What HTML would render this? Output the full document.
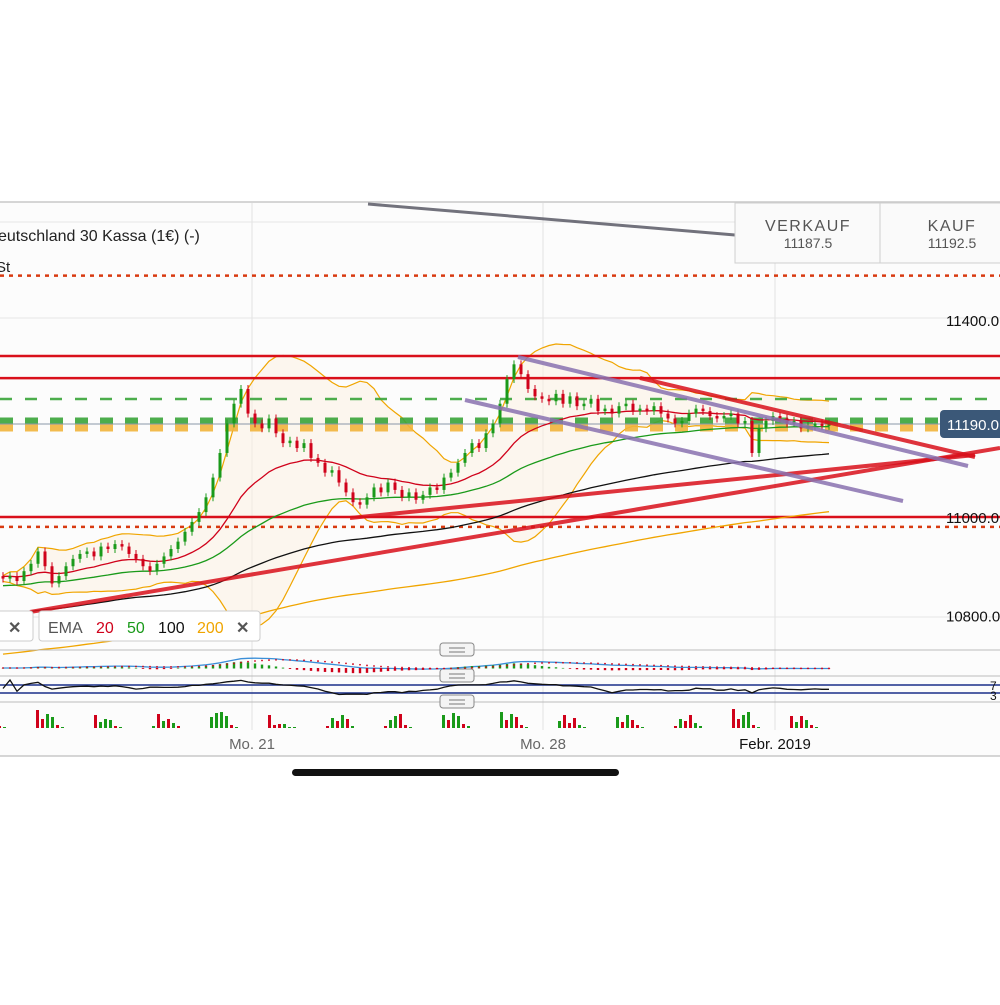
<!DOCTYPE html>
<html><head><meta charset="utf-8"><style>
html,body{margin:0;padding:0;background:#fff;}
body{width:1000px;height:1000px;overflow:hidden;font-family:"Liberation Sans",sans-serif;}
</style></head><body>
<svg id="c" width="1000" height="1000" viewBox="0 0 1000 1000" xmlns="http://www.w3.org/2000/svg" font-family="Liberation Sans, sans-serif">
<rect x="0" y="202" width="1000" height="554" fill="#fcfcfc"/>
<line x1="0" y1="202" x2="1000" y2="202" stroke="#c8c8c8" stroke-width="1.5"/>
<line x1="0" y1="756" x2="1000" y2="756" stroke="#c8c8c8" stroke-width="1.5"/>
<g id="grid"></g>
<g id="bb"></g>
<g id="levels"></g>
<g id="ema"></g>
<g id="candles"></g>
<g id="draw"></g>
<g id="panels"></g>
<g id="vol"></g>

<text x="-2" y="241" font-size="16" fill="#222">eutschland 30 Kassa (1€) (-)</text>
<text x="-4" y="272" font-size="15" fill="#222">St</text>

<g>
<rect x="735" y="203" width="145" height="60" fill="#fafafa" stroke="#cfcfcf"/>
<text x="808" y="231" font-size="16" fill="#555" text-anchor="middle" letter-spacing="1.5">VERKAUF</text>
<text x="808" y="248" font-size="14" fill="#555" text-anchor="middle">11187.5</text>
</g>
<g>
<rect x="880" y="203" width="125" height="60" fill="#fafafa" stroke="#cfcfcf"/>
<text x="952" y="231" font-size="16" fill="#555" text-anchor="middle" letter-spacing="1.5">KAUF</text>
<text x="952" y="248" font-size="14" fill="#555" text-anchor="middle">11192.5</text>
</g>

<g id="yaxis"></g>
<g>
<rect x="940" y="410" width="64" height="28" rx="4" fill="#3b5878"/>
<text x="947" y="430" font-size="15" fill="#fff">11190.0</text>
</g>

<g>
<rect x="-5" y="611" width="38" height="30" rx="3" fill="#fff" stroke="#ccc"/>
<text x="8" y="633" font-size="16" fill="#555" font-weight="bold">✕</text>
</g>
<g>
<rect x="39" y="611" width="221" height="30" rx="3" fill="#fff" stroke="#ccc"/>
<text x="48" y="633" font-size="16" fill="#555">EMA</text>
<text x="96" y="633" font-size="16" fill="#d0021b">20</text>
<text x="127" y="633" font-size="16" fill="#1a9a1a">50</text>
<text x="158" y="633" font-size="16" fill="#111">100</text>
<text x="197" y="633" font-size="16" fill="#f0a500">200</text>
<text x="236" y="633" font-size="16" fill="#555" font-weight="bold">✕</text>
</g>

<g id="xaxis"></g>
<rect x="292" y="769" width="327" height="7" rx="3.5" fill="#111"/>
</svg>
<script>
// ---- data ----
const closes=[10875,10880,10870,10890,10905,10930,10900,10865,10880,10900,10915,10925,10930,10920,10940,10935,10945,10940,10925,10915,10900,10890,10905,10920,10935,10950,10970,10990,11010,11040,11080,11130,11190,11230,11260,11210,11190,11180,11200,11170,11150,11155,11140,11150,11120,11110,11090,11095,11070,11050,11030,11025,11040,11060,11050,11070,11055,11040,11050,11035,11045,11060,11055,11080,11090,11110,11130,11150,11140,11170,11190,11230,11280,11310,11290,11260,11245,11240,11235,11250,11230,11245,11225,11230,11240,11215,11220,11210,11225,11230,11215,11220,11215,11225,11210,11200,11190,11195,11210,11220,11215,11205,11200,11205,11210,11190,11195,11130,11180,11195,11205,11200,11190,11195,11180,11185,11190,11185,11190];
const firstOpen=10880;
const priceTicks=[11400,11000,10800];
const priceTickLabels=["11400.0","11000.0","10800.0"];
const solidLevels=[11327,11282,11000];
const dottedLevels=[11490,10980];
const dateLabels=["Mo. 21","Mo. 28","Febr. 2019"];
const dateX=[252,543,775];
const emaSeeds={20:10880,50:10860,100:10800,200:10720};
const volumes=[[6,14,4,3,2,1],[18,9,14,11,3,1],[13,6,9,8,2,1],[2,14,7,9,5,2],[11,15,16,12,3,1],[13,3,4,4,1,1],[2,10,7,13,9,2],[2,8,12,14,3,1],[13,8,15,12,4,2],[16,8,14,11,3,1],[7,13,5,10,3,1],[11,6,13,8,3,1],[2,9,7,13,5,2],[19,9,13,16,3,1],[12,6,12,8,3,1]];
const volUp=[[0,1,0,1,0,1],[0,0,1,1,0,1],[0,1,1,1,0,1],[1,0,1,0,1,0],[1,1,1,1,0,1],[0,0,0,1,1,1],[0,1,0,1,0,1],[0,1,1,0,0,1],[1,0,1,1,0,1],[1,0,1,0,0,1],[1,0,0,0,1,1],[1,0,1,0,0,1],[0,1,0,0,1,1],[0,0,1,1,0,1],[0,1,0,1,0,1]];
// ---- scales ----
const X0=3,DX=7;
const xs=i=>X0+i*DX;
const ys=p=>517-(p-11000)*0.4925;
const NS='http://www.w3.org/2000/svg';
function mk(tag,attrs,parent){const e=document.createElementNS(NS,tag);for(const k in attrs)e.setAttribute(k,attrs[k]);parent.appendChild(e);return e;}
const G=id=>document.getElementById(id);
// grid
[222,318,617].forEach(y=>{const l=mk('line',{x1:0,x2:1000,y1:y,y2:y,stroke:'#e6e6e6'},G('grid'));});
dateX.forEach(x=>{const l=mk('line',{x1:x,x2:x,y1:203,y2:730,stroke:'#e2e2e2'},G('grid'));});
// indicators
function ema(n,seed){const k=2/(n+1);let e=seed;return closes.map(c=>e=c*k+e*(1-k));}
function pathOf(arr){return arr.map((v,i)=>(i?'L':'M')+xs(i).toFixed(1)+','+ys(v).toFixed(1)).join('');}
const up=[],lo=[];
closes.forEach((c,i)=>{const s=closes.slice(Math.max(0,i-19),i+1);const m=s.reduce((a,b)=>a+b,0)/s.length;const sd=Math.sqrt(s.reduce((a,b)=>a+(b-m)*(b-m),0)/s.length);up.push(m+2*sd+6);lo.push(m-2*sd-6);});
let fp=pathOf(up)+lo.slice().reverse().map((v,j)=>'L'+xs(lo.length-1-j).toFixed(1)+','+ys(v).toFixed(1)).join('')+'Z';
let e=mk('path',{d:fp,fill:'#fbf1e4',opacity:.6},G('bb'));
e=mk('path',{d:pathOf(up),fill:'none',stroke:'#f0a500','stroke-width':1.2},G('bb'));
e=mk('path',{d:pathOf(lo),fill:'none',stroke:'#f0a500','stroke-width':1.2},G('bb'));
// levels
solidLevels.forEach(p=>{const l=mk('line',{x1:0,x2:1000,y1:ys(p),y2:ys(p),stroke:'#d9101b','stroke-width':2.5},G('levels'));});
dottedLevels.forEach(p=>{const l=mk('line',{x1:0,x2:1000,y1:ys(p),y2:ys(p),stroke:'#d83a10','stroke-width':2.5,'stroke-dasharray':'4 5'},G('levels'));});
[[399,'#3aa53a',2.5,'12 13'],[421,'#3aa53a',7,'13 12'],[428,'#f2b43c',7,'13 12']].forEach(a=>{const l=mk('line',{x1:0,x2:1000,y1:a[0],y2:a[0],stroke:a[1],'stroke-width':a[2],'stroke-dasharray':a[3],opacity:.9},G('levels'));});
e=mk('line',{x1:0,x2:940,y1:424,y2:424,stroke:'#8a97a8','stroke-width':1},G('levels'));
// emas
[[200,'#f0a500',1.3],[100,'#111',1.3],[50,'#1a9a1a',1.3],[20,'#d0021b',1.3]].forEach(a=>{const arr=ema(a[0],emaSeeds[a[0]]);const p=mk('path',{d:pathOf(arr),fill:'none',stroke:a[1],'stroke-width':a[2]},G('ema'));});
// candles
closes.forEach((c,i)=>{const o=i?closes[i-1]:firstOpen;const g=c>=o;const col=g?'#1a9a1a':'#d0021b';
const hi=Math.max(o,c)+8,lw=Math.min(o,c)-8;
const w=mk('line',{x1:xs(i),x2:xs(i),y1:ys(hi),y2:ys(lw),stroke:col,'stroke-width':1},G('candles'));
const top=ys(Math.max(o,c)),h=Math.max(1,Math.abs(ys(o)-ys(c)));
const r=mk('rect',{x:xs(i)-1.5,y:top,width:3,height:h,fill:col},G('candles'));});
// drawings
[[30,612,1000,448,'#d9101b',4],[350,518,975,455,'#d9101b',4],[640,378,975,457,'#d9101b',4],[465,400,903,501,'#8a72b0',4],[518,357,968,466,'#8a72b0',4],[368,204,735,235,'#5a5a66',3]].forEach(a=>{const l=mk('line',{x1:a[0],y1:a[1],x2:a[2],y2:a[3],stroke:a[4],'stroke-width':a[5],opacity:.85},G('draw'));});
// y axis
priceTicks.forEach((p,i)=>{const t=mk('text',{x:946,y:ys(p)+6,'font-size':15,fill:'#111'},G('yaxis'));t.textContent=priceTickLabels[i];});
// panels
[650,676,702].forEach(y=>{const l=mk('line',{x1:0,x2:1000,y1:y,y2:y,stroke:'#bbb'},G('panels'));
const r=mk('rect',{x:440,y:y-7,width:34,height:13,rx:3,fill:'#f4f4f4',stroke:'#888'},G('panels'));
mk('line',{x1:449,x2:465,y1:y-2,y2:y-2,stroke:'#777'},G('panels'));mk('line',{x1:449,x2:465,y1:y+2,y2:y+2,stroke:'#777'},G('panels'));});
const e12=ema(12,closes[0]),e26=ema(26,closes[0]);const macd=closes.map((c,i)=>e12[i]-e26[i]);
e=mk('path',{d:macd.map((v,i)=>(i?'L':'M')+xs(i)+','+(668-v*0.12).toFixed(1)).join(''),fill:'none',stroke:'#3b8fd8','stroke-width':1.3},G('panels'));
const sig=[];let s=macd[0];macd.forEach(v=>{s=v*0.2+s*0.8;sig.push(s);});
macd.forEach((v,i)=>{const d=v-sig[i];const r=mk('rect',{x:xs(i)-1.2,y:Math.min(668,668-d*0.2),width:2.4,height:Math.abs(d*0.2)+0.5,fill:d>=0?'#1a9a1a':'#d0021b'},G('panels'));
const c=mk('circle',{cx:xs(i),cy:668-sig[i]*0.12,r:0.9,fill:'#d0021b'},G('panels'));});
[685,693].forEach(y=>{const l=mk('line',{x1:0,x2:1000,y1:y,y2:y,stroke:'#1a2f8a','stroke-width':1.5},G('panels'));});
const rsi=closes.map((c,i)=>{let g=0,l=0;for(let j=Math.max(1,i-13);j<=i;j++){const d=closes[j]-closes[j-1];if(d>0)g+=d;else l-=d;}return g+l?100*g/(g+l):50;});
e=mk('path',{d:rsi.map((v,i)=>(i?'L':'M')+xs(i)+','+(697-v*0.17).toFixed(1)).join(''),fill:'none',stroke:'#111','stroke-width':1.3},G('panels'));
let t=mk('text',{x:990,y:690,'font-size':12,fill:'#111'},G('panels'));t.textContent='7';
t=mk('text',{x:990,y:700,'font-size':12,fill:'#111'},G('panels'));t.textContent='3';
// volume
volumes.forEach((grp,k)=>grp.forEach((v,j)=>{const x=-22+k*58+j*5;const r=mk('rect',{x:x,y:728-v,width:3,height:v,fill:volUp[k][j]?'#1a9a1a':'#d0021b'},G('vol'));}));
// x axis
dateLabels.forEach((d,i)=>{const t=mk('text',{x:dateX[i],y:749,'font-size':15,fill:i==2?'#111':'#666','text-anchor':'middle'},G('xaxis'));t.textContent=d;});
</script>
</body></html>
